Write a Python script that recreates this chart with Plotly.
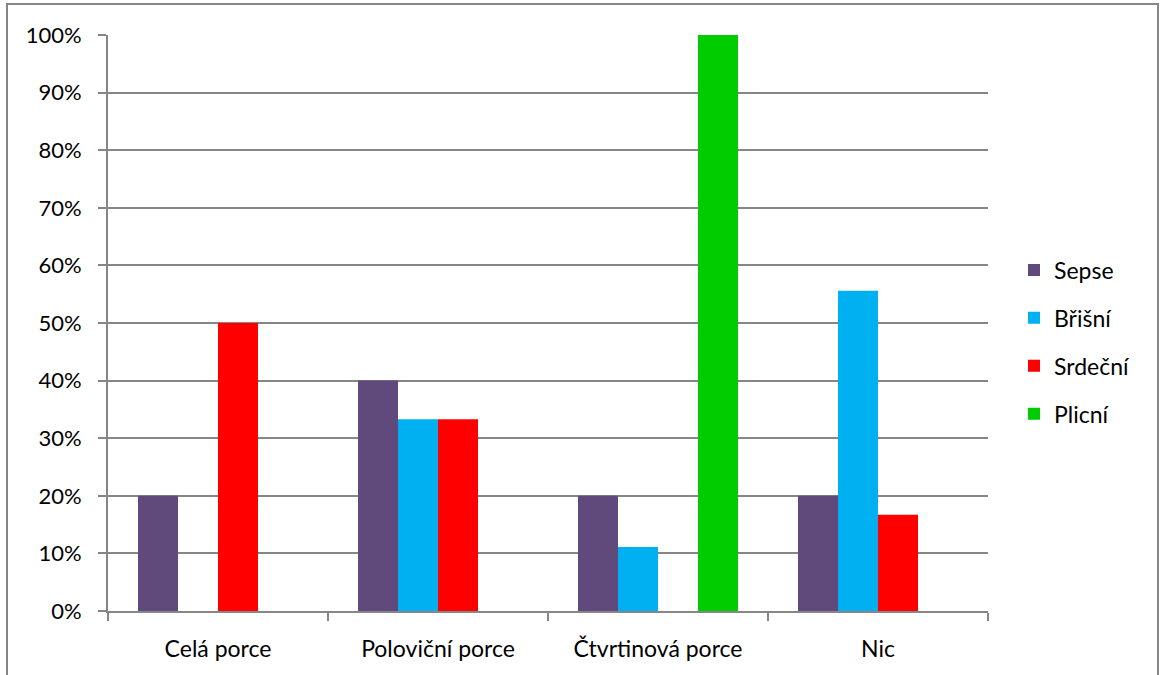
import plotly.graph_objects as go

categories = ["Celá porce", "Poloviční porce", "Čtvrtinová porce", "Nic"]
sepse = [0.20, 0.40, 0.20, 0.20]
brisni = [0.0, 0.333, 0.111, 0.556]
srdecni = [0.50, 0.333, 0.0, 0.167]
plicni = [0.0, 0.0, 1.0, 0.0]

series = [
    ("Sepse", sepse, "#604A7B"),
    ("Břišní", brisni, "#00B0F0"),
    ("Srdeční", srdecni, "#FF0000"),
    ("Plicní", plicni, "#00CC00"),
]

font_family = "Lato, 'Open Sans', sans-serif"

fig = go.Figure()
for name, vals, color in series:
    fig.add_trace(go.Bar(
        x=categories, y=vals, name=name, legendgroup=name,
        marker=dict(color=color, line=dict(width=0)),
    ))

fig.update_layout(
    width=1160, height=675,
    margin=dict(l=108, r=172, t=35, b=64),
    paper_bgcolor="white", plot_bgcolor="white",
    barmode="group", bargap=0.2727, bargroupgap=0,
    font=dict(family=font_family, size=22, color="black"),
    showlegend=True,
    legend=dict(
        x=(1014 - 108) / 880, xanchor="left", y=0.467, yanchor="middle",
        font=dict(size=23), tracegroupgap=15, itemwidth=30,
        bgcolor="rgba(0,0,0,0)",
    ),
    xaxis=dict(
        type="category", tickson="boundaries", ticks="outside", ticklen=8,
        tickcolor="#868686", tickwidth=2, showline=True, linecolor="#868686",
        linewidth=2, showgrid=False, ticklabelstandoff=16,
        tickfont=dict(size=23),
    ),
    yaxis=dict(
        range=[0, 1], tickvals=[i / 10 for i in range(11)], tickformat=".0%",
        ticks="outside", ticklen=8, tickcolor="#868686", tickwidth=2,
        showline=True, linecolor="#868686", linewidth=2,
        showgrid=True, gridcolor="#868686", gridwidth=1.5, zeroline=False,
        ticklabelstandoff=12, tickfont=dict(size=22),
    ),
)

# Outer chart frame
fig.add_shape(
    type="rect", xref="paper", yref="paper",
    x0=(7 - 108) / 880, x1=(1158 - 108) / 880,
    y0=(611 - 690) / 576, y1=(611 - 4) / 576,
    line=dict(color="#868686", width=2), fillcolor="rgba(0,0,0,0)",
    layer="below",
)

fig.write_html("out.html")
